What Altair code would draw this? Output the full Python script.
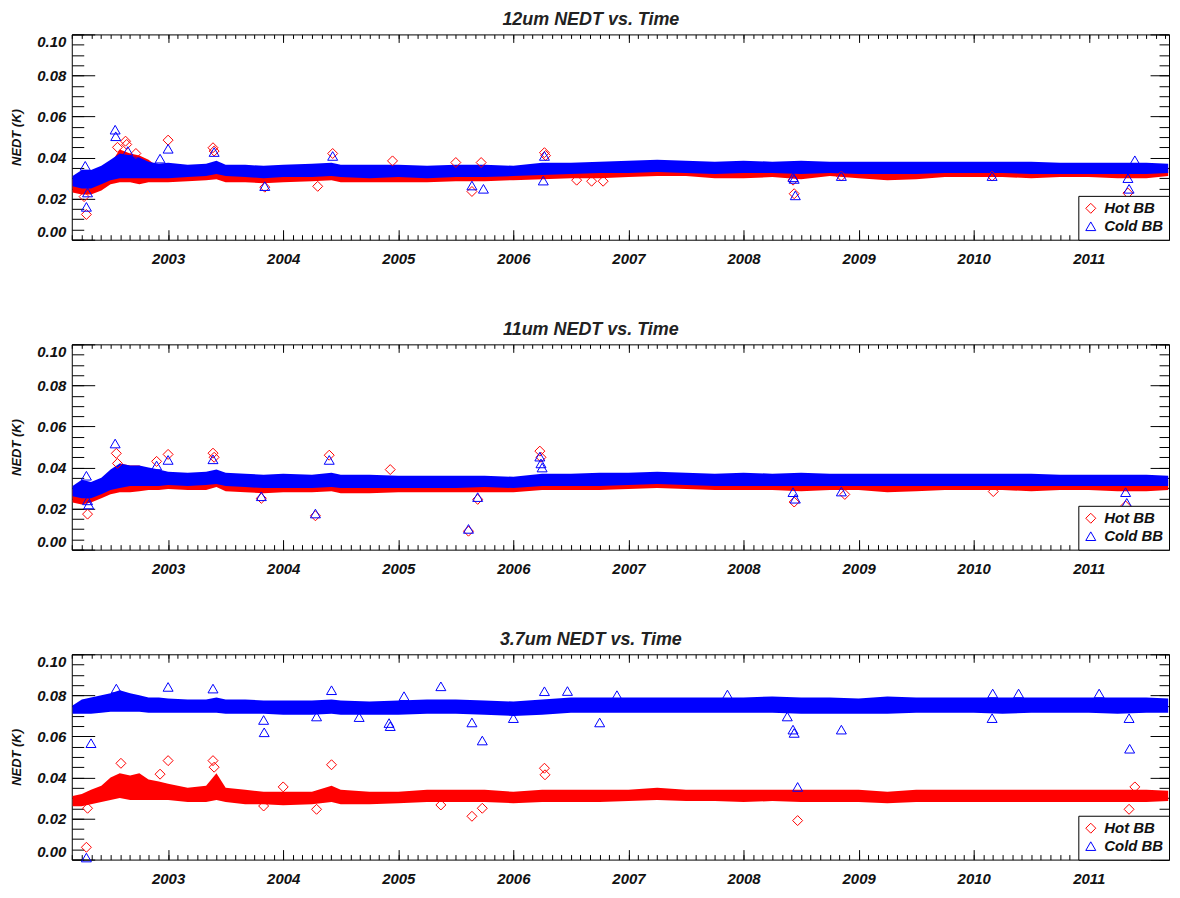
import altair as alt
import pandas as pd

# ---------------- data ----------------
T = [2002.17, 2002.25, 2002.33, 2002.42, 2002.50, 2002.58, 2002.67, 2002.75, 2002.83, 2002.92,
     2003.00, 2003.17, 2003.33, 2003.42, 2003.50, 2003.67, 2003.83, 2004.00, 2004.25, 2004.42,
     2004.50, 2004.75, 2005.00, 2005.25, 2005.50, 2005.75, 2006.00, 2006.25, 2006.50, 2006.75,
     2007.00, 2007.25, 2007.50, 2007.75, 2008.00, 2008.25, 2008.50, 2008.75, 2009.00, 2009.25,
     2009.50, 2009.75, 2010.00, 2010.25, 2010.50, 2010.75, 2011.00, 2011.25, 2011.50, 2011.69]

# 12um
P1_BLUE_HI = [.031, .034, .034, .036, .039, .042, .041, .040, .038, .037,
              .0375, .0365, .037, .0385, .0365, .0365, .036, .0365, .037, .0375,
              .0365, .0365, .0365, .036, .0365, .0365, .036, .0375, .0375, .038,
              .0385, .039, .0385, .038, .0385, .038, .0385, .038, .038, .038,
              .038, .038, .038, .038, .038, .0375, .0375, .0375, .0375, .037]
P1_BLUE_LO = [.026, .025, .025, .027, .029, .030, .030, .030, .030, .030,
              .030, .0305, .031, .032, .031, .0305, .030, .0305, .0305, .031,
              .0305, .030, .0305, .030, .0305, .0305, .031, .0315, .032, .0325,
              .0325, .033, .0325, .032, .0325, .0325, .032, .0325, .032, .032,
              .032, .0325, .0325, .0325, .032, .032, .032, .032, .032, .0325]
P1_RED_HI = [.029, .030, .031, .033, .037, .044, .042, .041, .039, .035,
             .035, .034, .034, .036, .034, .034, .034, .034, .034, .035,
             .034, .034, .034, .034, .034, .034, .034, .035, .035, .035,
             .035, .036, .036, .035, .035, .035, .035, .035, .035, .035,
             .035, .035, .035, .035, .035, .035, .035, .035, .035, .035]
P1_RED_LO = [.023, .022, .022, .024, .027, .028, .028, .027, .028, .028,
             .028, .0285, .029, .0295, .028, .028, .0275, .028, .0285, .029,
             .028, .028, .028, .028, .0285, .0285, .029, .0295, .030, .030,
             .0305, .031, .031, .030, .030, .0305, .0295, .031, .030, .029,
             .0295, .0305, .0305, .0305, .030, .0305, .0305, .030, .030, .031]
P1_HOT_T = [2002.29, 2002.27, 2002.63, 2002.64, 2002.56, 2002.72, 2003.00, 2003.39, 2003.40, 2003.84,
            2004.30, 2004.43, 2004.95, 2005.50, 2005.64, 2005.72, 2006.27, 2006.28, 2006.55, 2006.68,
            2006.78, 2008.44, 2008.43, 2008.85, 2010.16, 2011.34]
P1_HOT_V = [.0123, .021, .048, .0464, .045, .042, .0485, .0448, .0432, .0256,
            .026, .042, .0384, .0376, .0235, .0376, .0424, .041, .029, .0285,
            .0285, .0224, .029, .031, .031, .0227]
P1_COLD_T = [2002.29, 2002.28, 2002.30, 2002.54, 2002.545, 2002.65, 2002.93, 2003.00, 2003.40, 2003.84,
             2004.43, 2005.64, 2005.74, 2006.27, 2006.26, 2008.43, 2008.44, 2008.45, 2008.85, 2010.16,
             2011.34, 2011.35, 2011.40]
P1_COLD_V = [.016, .036, .023, .0536, .0504, .0432, .0395, .0443, .0427, .0261,
             .0408, .0264, .0248, .0408, .0288, .0304, .0296, .0216, .031, .031,
             .030, .0248, .0387]

# 11um
P2_BLUE_HI = [.031, .034, .033, .035, .039, .042, .041, .041, .040, .039,
              .038, .0375, .038, .039, .0375, .037, .0365, .037, .0365, .0375,
              .0365, .0365, .036, .036, .036, .036, .0355, .037, .037, .0375,
              .0375, .038, .0375, .037, .0375, .037, .0375, .037, .037, .037,
              .037, .037, .037, .037, .037, .0365, .0365, .0365, .0365, .036]
P2_BLUE_LO = [.026, .025, .025, .027, .029, .030, .031, .031, .031, .031,
              .0315, .031, .0315, .032, .031, .0305, .030, .030, .030, .0305,
              .030, .030, .030, .030, .030, .0305, .030, .031, .031, .031,
              .0315, .032, .0315, .031, .031, .031, .031, .031, .031, .031,
              .031, .031, .031, .031, .031, .031, .031, .031, .031, .031]
P2_RED_HI = [.029, .030, .031, .033, .037, .042, .041, .041, .039, .037,
             .036, .035, .035, .037, .035, .034, .034, .034, .034, .035,
             .034, .034, .034, .034, .034, .034, .034, .035, .035, .035,
             .035, .035, .035, .035, .035, .035, .035, .035, .035, .034,
             .034, .035, .035, .035, .035, .035, .035, .034, .034, .034]
P2_RED_LO = [.023, .022, .023, .025, .027, .028, .028, .0285, .029, .029,
             .0295, .029, .029, .0305, .0285, .028, .0275, .028, .028, .0285,
             .0275, .0275, .028, .028, .028, .028, .028, .029, .029, .029,
             .0295, .030, .0295, .029, .029, .029, .0285, .029, .029, .028,
             .0285, .029, .029, .029, .0285, .029, .029, .0285, .0285, .029]
P2_HOT_T = [2002.30, 2002.55, 2002.56, 2002.90, 2003.00, 2003.39, 2003.40, 2003.81, 2004.28, 2004.40,
            2004.93, 2005.61, 2005.69, 2006.23, 2006.24, 2008.44, 2008.88, 2010.17, 2011.32]
P2_HOT_V = [.0173, .0469, .042, .043, .0464, .047, .045, .025, .0165, .046,
            .039, .009, .0245, .048, .045, .0232, .0269, .0283, .0213]
P2_COLD_T = [2002.30, 2002.31, 2002.29, 2002.54, 2002.90, 2003.00, 2003.39, 2003.81, 2004.28, 2004.40,
             2005.61, 2005.69, 2006.23, 2006.24, 2006.25, 2008.43, 2008.45, 2008.85, 2011.32, 2011.33]
P2_COLD_V = [.024, .022, .036, .0517, .041, .0437, .044, .026, .0176, .0437,
             .0101, .0256, .0453, .042, .040, .028, .0248, .0283, .028, .0228]

# 3.7um
P3_BLUE_HI = [.075, .078, .079, .080, .081, .0825, .081, .080, .079, .079,
              .0785, .078, .078, .079, .078, .078, .0775, .0775, .0775, .078,
              .0775, .077, .0775, .078, .078, .0775, .077, .078, .079, .079,
              .079, .079, .079, .079, .079, .0795, .079, .079, .0785, .0795,
              .079, .079, .079, .079, .079, .079, .079, .079, .079, .0785]
P3_BLUE_LO = [.071, .071, .071, .0715, .072, .072, .072, .072, .0715, .0715,
              .0715, .0715, .0715, .0715, .071, .071, .071, .0705, .0705, .071,
              .0705, .0705, .0705, .071, .071, .0705, .070, .0705, .0715, .0715,
              .0715, .0715, .0715, .0715, .0715, .0715, .071, .071, .071, .071,
              .0715, .0715, .0715, .071, .0715, .0715, .0715, .071, .0715, .0715]
P3_RED_HI = [.031, .032, .034, .036, .040, .042, .041, .042, .039, .038,
             .037, .035, .036, .042, .035, .034, .033, .033, .033, .036,
             .034, .033, .033, .034, .034, .034, .033, .034, .034, .034,
             .034, .035, .034, .034, .034, .034, .034, .034, .034, .033,
             .034, .034, .034, .034, .034, .034, .034, .034, .034, .0335]
P3_RED_LO = [.026, .026, .027, .028, .029, .030, .029, .029, .029, .029,
             .029, .028, .028, .029, .028, .027, .027, .0265, .027, .028,
             .027, .027, .0275, .028, .028, .028, .0275, .028, .028, .028,
             .0285, .029, .0285, .0285, .028, .0285, .028, .028, .028, .0275,
             .028, .028, .028, .028, .028, .028, .028, .028, .028, .0285]
P3_HOT_T = [2002.29, 2002.30, 2002.59, 2002.93, 2003.00, 2003.39, 2003.40, 2003.83, 2004.00, 2004.29,
            2004.42, 2005.37, 2005.64, 2005.73, 2006.27, 2006.275, 2008.47, 2011.35, 2011.40]
P3_HOT_V = [.006, .025, .0469, .0416, .0482, .0482, .045, .0261, .0354, .0245,
            .0462, .0266, .0211, .025, .0445, .0413, .019, .0245, .0354]
P3_COLD_T = [2002.29, 2002.33, 2002.55, 2003.00, 2003.39, 2003.83, 2003.835, 2004.29, 2004.42, 2004.66,
             2004.92, 2004.93, 2005.05, 2005.37, 2005.64, 2005.73, 2006.00, 2006.27, 2006.47, 2006.75,
             2006.90, 2007.86, 2008.38, 2008.43, 2008.44, 2008.47, 2008.85, 2010.16, 2010.165, 2010.39,
             2011.09, 2011.35, 2011.355]
P3_COLD_V = [.001, .0567, .0833, .0841, .0833, .068, .062, .0697, .0825, .0694,
             .0665, .065, .0796, .0844, .0668, .058, .0689, .082, .0821, .0668,
             .0801, .0804, .0697, .0633, .0617, .0354, .0633, .0689, .0809, .0809,
             .0809, .0689, .054]

TITLES = ["12um NEDT vs. Time", "11um NEDT vs. Time", "3.7um NEDT vs. Time"]
SERIES = ["Hot BB", "Cold BB"]

# ---------------- styling ----------------
FONT = "Liberation Sans"
XMIN, XMAX = 2002.163, 2011.697
W, H = 1101, 206
YEARS = list(range(2003, 2012))
MONTHS = [2002 + k / 12 for k in range(0, 12 * 10 + 1) if XMIN <= 2002 + k / 12 <= XMAX]
YMAJ = [0.0, 0.02, 0.04, 0.06, 0.08, 0.10]
YMIN = [round(i * 0.005, 3) for i in range(21)]

xs = alt.Scale(domain=[XMIN, XMAX], nice=False, zero=False)
ys = alt.Scale(domain=[0, 0.1], nice=False, zero=False)
cscale = alt.Scale(domain=SERIES, range=["#ff0000", "#0000ff"])
sscale = alt.Scale(domain=SERIES, range=["diamond", "triangle-up"])


def tick_axis(orient, values, size):
    return alt.Axis(orient=orient, values=values, tickSize=size, offset=-size, labels=False,
                    domain=False, grid=False, title=None, ticks=True, tickColor="#000",
                    tickWidth=1)


x_label_axis = alt.Axis(orient="bottom", values=YEARS, format="d", ticks=False, tickSize=0,
                        domain=False, grid=False, title=None, labelPadding=12, labelFont=FONT,
                        labelFontSize=15, labelFontWeight="bold", labelFontStyle="italic",
                        labelColor="#111")
y_label_axis = alt.Axis(orient="left", values=YMAJ, format=".2f", ticks=False, tickSize=0,
                        domain=False, grid=False, title="NEDT (K)", labelPadding=6,
                        labelFlush=True, labelFont=FONT, labelFontSize=15, labelFontWeight="bold",
                        labelFontStyle="italic", labelColor="#111", titleFont=FONT,
                        titleFontSize=13, titleFontWeight="bold", titleFontStyle="italic",
                        titleColor="#111", titlePadding=13)

legend = alt.Legend(title=None, orient="bottom-right", offset=0, strokeColor="#000",
                    fillColor="white", padding=5, labelFont=FONT, labelFontSize=15,
                    labelFontStyle="italic", labelFontWeight="bold", labelColor="#111",
                    symbolSize=100, symbolStrokeWidth=1, rowPadding=2, labelOffset=6,
                    cornerRadius=0)


def panel(title, bhi, blo, rhi, rlo, ht, hv, ct, cv):
    band = pd.DataFrame({"t": T, "bhi": bhi, "blo": blo, "rhi": rhi, "rlo": rlo})
    hot = pd.DataFrame({"t": ht, "v": hv, "series": "Hot BB"})
    cold = pd.DataFrame({"t": ct, "v": cv, "series": "Cold BB"})

    red = alt.Chart(band).mark_area(color="#ff0000", opacity=1).encode(
        x=alt.X("t:Q", scale=xs, axis=tick_axis("bottom", YEARS, 10)),
        y=alt.Y("rlo:Q", scale=ys, axis=tick_axis("left", YMAJ, 23)),
        y2="rhi:Q")
    blue = alt.Chart(band).mark_area(color="#0000ff", opacity=1).encode(
        x=alt.X("t:Q", scale=xs, axis=tick_axis("bottom", MONTHS, 5)),
        y=alt.Y("blo:Q", scale=ys, axis=tick_axis("left", YMIN, 12)),
        y2="bhi:Q")
    hot_pts = alt.Chart(hot).mark_point(filled=False, opacity=1, strokeWidth=1, size=100).encode(
        x=alt.X("t:Q", scale=xs, axis=x_label_axis),
        y=alt.Y("v:Q", scale=ys, axis=y_label_axis),
        color=alt.Color("series:N", scale=cscale, legend=legend),
        shape=alt.Shape("series:N", scale=sscale, legend=legend))
    cold_pts = alt.Chart(cold).mark_point(filled=False, opacity=1, strokeWidth=1, size=100).encode(
        x=alt.X("t:Q", scale=xs, axis=tick_axis("top", YEARS, 8)),
        y=alt.Y("v:Q", scale=ys, axis=tick_axis("right", YMAJ, 19)),
        color=alt.Color("series:N", scale=cscale, legend=legend),
        shape=alt.Shape("series:N", scale=sscale, legend=legend))
    ghost = alt.Chart(band).mark_point(opacity=0).encode(
        x=alt.X("t:Q", scale=xs, axis=tick_axis("top", MONTHS, 4)),
        y=alt.Y("bhi:Q", scale=ys, axis=tick_axis("right", YMIN, 10)))

    return alt.layer(red, blue, hot_pts, cold_pts, ghost).resolve_axis(
        x="independent", y="independent").properties(
        width=W, height=H,
        title=alt.TitleParams(title, font=FONT, fontSize=18, fontStyle="italic",
                              fontWeight="bold", color="#222", anchor="middle",
                              frame="bounds", offset=5))


p1 = panel(TITLES[0], P1_BLUE_HI, P1_BLUE_LO, P1_RED_HI, P1_RED_LO, P1_HOT_T, P1_HOT_V, P1_COLD_T, P1_COLD_V)
p2 = panel(TITLES[1], P2_BLUE_HI, P2_BLUE_LO, P2_RED_HI, P2_RED_LO, P2_HOT_T, P2_HOT_V, P2_COLD_T, P2_COLD_V)
p3 = panel(TITLES[2], P3_BLUE_HI, P3_BLUE_LO, P3_RED_HI, P3_RED_LO, P3_HOT_T, P3_HOT_V, P3_COLD_T, P3_COLD_V)

chart = alt.vconcat(p1, p2, p3, spacing=53).resolve_scale(
    color="independent", shape="independent").resolve_legend(
    color="independent", shape="independent").properties(
    padding={"left": 2, "top": 1, "right": 0, "bottom": 0}, background="white"
).configure_view(stroke="#000", strokeWidth=1)

chart.save("out.html", embed_options={"renderer": "svg", "actions": False})
